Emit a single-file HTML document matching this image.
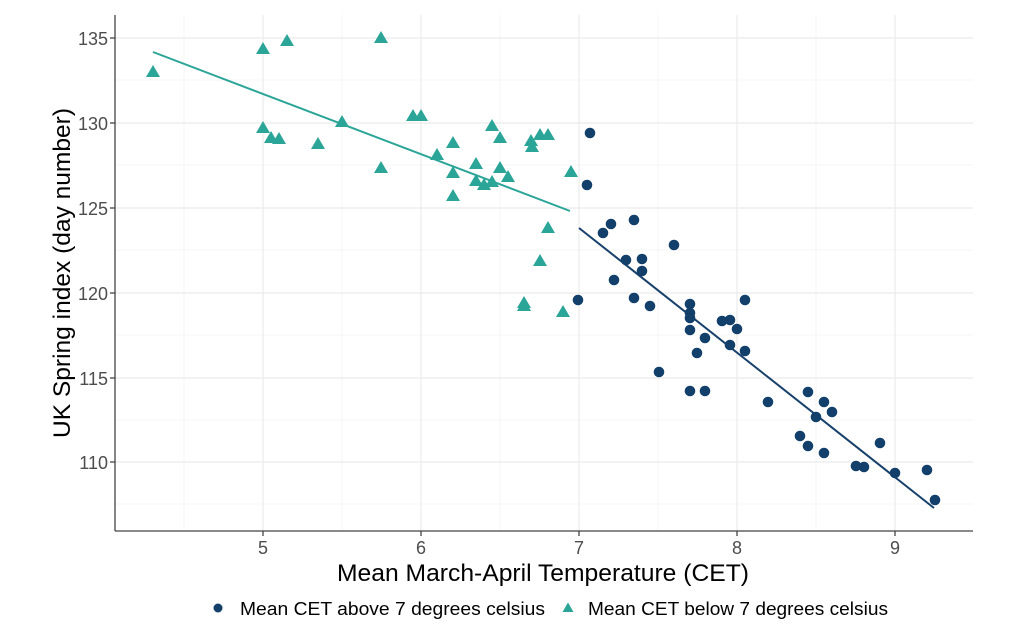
<!DOCTYPE html>
<html><head><meta charset="utf-8"><style>body{margin:0;background:#fff}svg{display:block}text{font-family:"Liberation Sans",sans-serif}</style></head><body>
<svg width="1023" height="632" viewBox="0 0 1023 632">
<g stroke="#f4f4f4" stroke-width="1">
<line x1="184" y1="15" x2="184" y2="531"/><line x1="342" y1="15" x2="342" y2="531"/><line x1="500" y1="15" x2="500" y2="531"/><line x1="658" y1="15" x2="658" y2="531"/><line x1="816" y1="15" x2="816" y2="531"/>
<line x1="115" y1="80" x2="973" y2="80"/><line x1="115" y1="165" x2="973" y2="165"/><line x1="115" y1="250" x2="973" y2="250"/><line x1="115" y1="335" x2="973" y2="335"/><line x1="115" y1="420" x2="973" y2="420"/><line x1="115" y1="504" x2="973" y2="504"/>
</g>
<g stroke="#ebebeb" stroke-width="1.2">
<line x1="263" y1="15" x2="263" y2="531"/><line x1="421" y1="15" x2="421" y2="531"/><line x1="579" y1="15" x2="579" y2="531"/><line x1="737" y1="15" x2="737" y2="531"/><line x1="895" y1="15" x2="895" y2="531"/>
<line x1="115" y1="38" x2="973" y2="38"/><line x1="115" y1="123" x2="973" y2="123"/><line x1="115" y1="208" x2="973" y2="208"/><line x1="115" y1="293" x2="973" y2="293"/><line x1="115" y1="378" x2="973" y2="378"/><line x1="115" y1="462" x2="973" y2="462"/>
</g>
<g stroke="#444" stroke-width="1.3">
<line x1="115" y1="15" x2="115" y2="531"/><line x1="115" y1="531" x2="973" y2="531"/>
<line x1="110" y1="38" x2="115" y2="38"/><line x1="110" y1="123" x2="115" y2="123"/><line x1="110" y1="208" x2="115" y2="208"/><line x1="110" y1="293" x2="115" y2="293"/><line x1="110" y1="378" x2="115" y2="378"/><line x1="110" y1="462" x2="115" y2="462"/>
<line x1="263" y1="531" x2="263" y2="536"/><line x1="421" y1="531" x2="421" y2="536"/><line x1="579" y1="531" x2="579" y2="536"/><line x1="737" y1="531" x2="737" y2="536"/><line x1="895" y1="531" x2="895" y2="536"/>
</g>
<g fill="#4d4d4d" font-size="18" text-anchor="end">
<text x="108" y="45">135</text><text x="108" y="130">130</text><text x="108" y="215">125</text><text x="108" y="300">120</text><text x="108" y="385">115</text><text x="108" y="469">110</text>
</g>
<g fill="#4d4d4d" font-size="18" text-anchor="middle">
<text x="263" y="554">5</text><text x="421" y="554">6</text><text x="579" y="554">7</text><text x="737" y="554">8</text><text x="895" y="554">9</text>
</g>
<text x="337" y="581" font-size="24" textLength="412" lengthAdjust="spacingAndGlyphs" fill="#000">Mean March-April Temperature (CET)</text>
<text transform="translate(70,438) rotate(-90)" font-size="24" textLength="330" lengthAdjust="spacingAndGlyphs" fill="#000">UK Spring index (day number)</text>
<line x1="153" y1="52" x2="570" y2="211" stroke="#2aa597" stroke-width="2"/>
<line x1="579" y1="228" x2="934" y2="508" stroke="#17406b" stroke-width="2"/>
<g fill="#12406b">
<circle cx="590" cy="133" r="5.3"/><circle cx="587" cy="185" r="5.3"/><circle cx="603" cy="233" r="5.3"/><circle cx="611" cy="224" r="5.3"/><circle cx="634" cy="220" r="5.3"/><circle cx="674" cy="245" r="5.3"/><circle cx="626" cy="260" r="5.3"/><circle cx="642" cy="259" r="5.3"/><circle cx="642" cy="271" r="5.3"/><circle cx="614" cy="280" r="5.3"/><circle cx="578" cy="300" r="5.3"/><circle cx="634" cy="298" r="5.3"/><circle cx="650" cy="306" r="5.3"/><circle cx="690" cy="304" r="5.3"/><circle cx="690" cy="313" r="5.3"/><circle cx="690" cy="318" r="5.3"/><circle cx="690" cy="330" r="5.3"/><circle cx="705" cy="338" r="5.3"/><circle cx="697" cy="353" r="5.3"/><circle cx="722" cy="321" r="5.3"/><circle cx="730" cy="320" r="5.3"/><circle cx="737" cy="329" r="5.3"/><circle cx="745" cy="300" r="5.3"/><circle cx="730" cy="345" r="5.3"/><circle cx="745" cy="351" r="5.3"/><circle cx="659" cy="372" r="5.3"/><circle cx="690" cy="391" r="5.3"/><circle cx="705" cy="391" r="5.3"/><circle cx="768" cy="402" r="5.3"/><circle cx="808" cy="392" r="5.3"/><circle cx="824" cy="402" r="5.3"/><circle cx="832" cy="412" r="5.3"/><circle cx="816" cy="417" r="5.3"/><circle cx="800" cy="436" r="5.3"/><circle cx="808" cy="446" r="5.3"/><circle cx="824" cy="453" r="5.3"/><circle cx="856" cy="466" r="5.3"/><circle cx="864" cy="467" r="5.3"/><circle cx="880" cy="443" r="5.3"/><circle cx="895" cy="473" r="5.3"/><circle cx="927" cy="470" r="5.3"/><circle cx="935" cy="500" r="5.3"/>
</g>
<defs><path id="t" d="M0,-7 L7,5 L-7,5 Z" fill="#2aa597"/><path id="ts" d="M0,-5.5 L5.5,4 L-5.5,4 Z" fill="#2aa597"/></defs>
<g>
<use href="#t" x="153" y="72"/><use href="#t" x="263" y="49"/><use href="#t" x="287" y="41"/><use href="#t" x="381" y="38"/><use href="#t" x="263" y="128"/><use href="#t" x="271" y="138"/><use href="#t" x="279" y="139"/><use href="#t" x="318" y="144"/><use href="#t" x="342" y="122"/><use href="#t" x="381" y="168"/><use href="#t" x="413" y="116"/><use href="#t" x="421" y="116"/><use href="#t" x="437" y="155"/><use href="#t" x="453" y="143"/><use href="#t" x="453" y="173"/><use href="#t" x="453" y="196"/><use href="#t" x="476" y="164"/><use href="#t" x="476" y="181"/><use href="#t" x="484" y="185"/><use href="#t" x="492" y="182"/><use href="#t" x="492" y="126"/><use href="#t" x="500" y="138"/><use href="#t" x="500" y="168"/><use href="#t" x="508" y="177"/><use href="#t" x="532" y="147"/><use href="#t" x="540" y="135"/><use href="#t" x="548" y="135"/><use href="#t" x="531" y="141"/><use href="#t" x="571" y="172"/><use href="#t" x="548" y="228"/><use href="#t" x="540" y="261"/><use href="#t" x="524" y="303"/><use href="#t" x="524" y="306"/><use href="#t" x="563" y="312"/>
</g>
<circle cx="218" cy="608" r="4.5" fill="#12406b"/>
<text x="240" y="615" font-size="18" textLength="305" lengthAdjust="spacingAndGlyphs" fill="#000">Mean CET above 7 degrees celsius</text>
<use href="#ts" x="568" y="608"/>
<text x="588" y="615" font-size="18" textLength="300" lengthAdjust="spacingAndGlyphs" fill="#000">Mean CET below 7 degrees celsius</text>
</svg>
</body></html>
